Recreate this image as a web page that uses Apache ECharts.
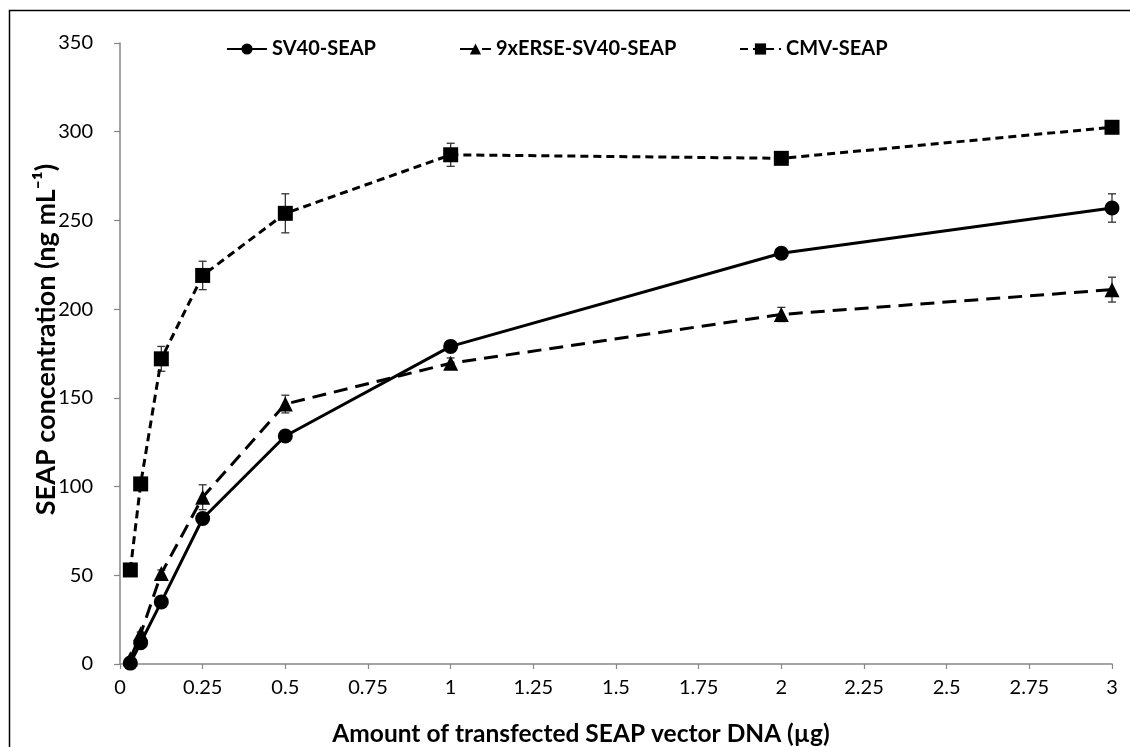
<!DOCTYPE html>
<html><head><meta charset="utf-8">
<script src="https://cdn.jsdelivr.net/npm/echarts@6/dist/echarts.min.js"></script>
<style>html,body{margin:0;padding:0;background:#fff}#c{width:1130px;height:747px}</style>
</head><body><div id="c"></div>
<script>
const xValues = [0.03125, 0.0625, 0.125, 0.25, 0.5, 1, 2, 3];
const sv40 = [0.5, 12, 35, 82, 128.5, 179, 231.5, 257];
const sv40Err = [0, 1, 2, 3, 2, 2, 3, 8];
const erse = [3, 17, 51, 94, 146.5, 169.5, 197, 211];
const erseErr = [0, 1, 2, 7, 5, 3, 4, 7];
const cmv = [53, 101.5, 172, 219, 254, 287, 285, 302.5];
const cmvErr = [0, 2, 7, 8, 11, 6.5, 3, 2];
const seriesNames = ['SV40-SEAP', '9xERSE-SV40-SEAP', 'CMV-SEAP'];
const xTicks = [0, 0.25, 0.5, 0.75, 1, 1.25, 1.5, 1.75, 2, 2.25, 2.5, 2.75, 3];
const yTicks = [0, 50, 100, 150, 200, 250, 300, 350];

const FONT = 'Lato, "Open Sans", "DejaVu Sans", sans-serif';
const pts = (ys) => xValues.map((x, i) => [x, ys[i]]);
const errData = (ys, es) => xValues.map((x, i) => [x, ys[i] - es[i], ys[i] + es[i]]).filter((d, i) => es[i] > 0);

function errSeries(ys, es) {
  return {
    type: 'custom', silent: true, z: 1,
    data: errData(ys, es),
    renderItem: function (params, api) {
      const x = api.value(0);
      const lo = api.coord([x, api.value(1)]);
      const hi = api.coord([x, api.value(2)]);
      const w = 4;
      const st = {stroke: '#333', lineWidth: 1.3, fill: null};
      return {type: 'group', children: [
        {type: 'line', shape: {x1: lo[0], y1: lo[1], x2: hi[0], y2: hi[1]}, style: st},
        {type: 'line', shape: {x1: lo[0] - w, y1: lo[1], x2: lo[0] + w, y2: lo[1]}, style: st},
        {type: 'line', shape: {x1: hi[0] - w, y1: hi[1], x2: hi[0] + w, y2: hi[1]}, style: st}
      ]};
    }
  };
}

const legendText = {fontFamily: FONT, fontWeight: 'bold', fontSize: 20, color: '#000'};
function mkLegend(name, left, w) {
  return {top: 34, left: left, itemWidth: w, itemHeight: 14, itemGap: 0, textStyle: legendText, data: [name]};
}

const chart = echarts.init(document.getElementById('c'), null, {renderer: 'canvas'});
chart.setOption({
  backgroundColor: '#fff',
  animation: false,
  graphic: [{type: 'rect', left: 7, top: 8, shape: {width: 1140, height: 760}, style: {fill: null, stroke: '#000', lineWidth: 1.5}, z: -10}],
  grid: {left: 120, right: 18, top: 43, bottom: 83, containLabel: false, outerBoundsMode: 'none'},
  legend: [
    mkLegend(seriesNames[0], 221, 40),
    mkLegend(seriesNames[1], 454, 31),
    mkLegend(seriesNames[2], 734, 41)
  ],
  xAxis: {
    type: 'value', min: 0, max: 3, interval: 0.25,
    axisLine: {lineStyle: {color: '#868686', width: 1.5}},
    axisTick: {show: true, length: 5, lineStyle: {color: '#868686', width: 1.2}},
    splitLine: {show: false},
    axisLabel: {fontFamily: FONT, fontSize: 20, color: '#000', margin: 14, formatter: v => String(v)},
    name: 'Amount of transfected SEAP vector DNA (\u00b5g)',
    nameLocation: 'middle', nameGap: 58, nameMoveOverlap: false,
    nameTextStyle: {fontFamily: FONT, fontWeight: 'bold', fontSize: 24.5, color: '#000', padding: [0, 70, 0, 0]}
  },
  yAxis: {
    type: 'value', min: 0, max: 350, interval: 50,
    axisLine: {show: true, lineStyle: {color: '#868686', width: 1.5}},
    axisTick: {show: true, length: 6, lineStyle: {color: '#868686', width: 1.2}},
    splitLine: {show: false},
    axisLabel: {fontFamily: FONT, fontSize: 20, color: '#000', margin: 27},
    name: 'SEAP concentration (ng mL\u207b\u00b9)',
    nameLocation: 'middle', nameGap: 60, nameMoveOverlap: false,
    nameTextStyle: {fontFamily: FONT, fontWeight: 'bold', fontSize: 27, color: '#000', padding: [0, 0, 0, 28]}
  },
  series: [
    errSeries(sv40, sv40Err), errSeries(erse, erseErr), errSeries(cmv, cmvErr),
    {name: seriesNames[0], type: 'line', data: pts(sv40), symbol: 'circle', symbolSize: 15, z: 3,
     lineStyle: {color: '#000', width: 3, type: 'solid'}, itemStyle: {color: '#000'}},
    {name: seriesNames[1], type: 'line', data: pts(erse), symbol: 'triangle', symbolSize: 15, z: 3,
     lineStyle: {color: '#000', width: 3, type: [14, 8]}, itemStyle: {color: '#000'}},
    {name: seriesNames[2], type: 'line', data: pts(cmv), symbol: 'rect', symbolSize: 15, z: 3,
     lineStyle: {color: '#000', width: 3, type: [8, 5]}, itemStyle: {color: '#000'}}
  ]
});
</script></body></html>
